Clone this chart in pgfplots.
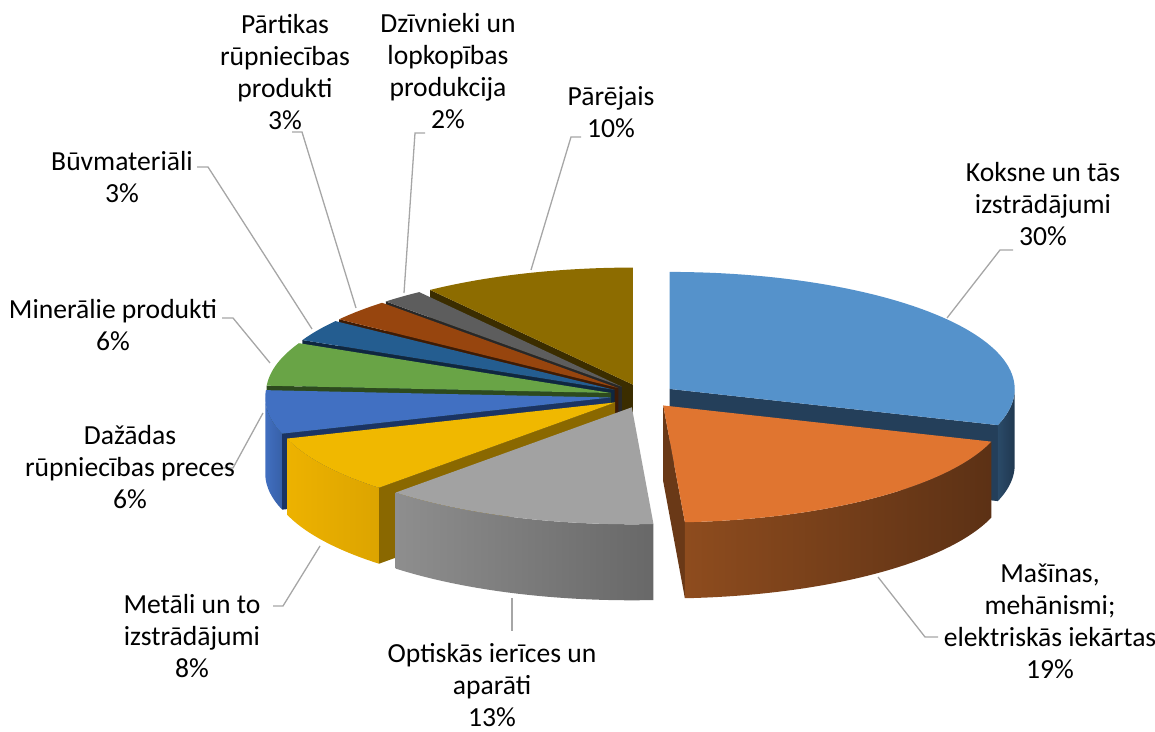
\documentclass[border=0pt]{standalone}
\usepackage{pgfplots}
\pgfplotsset{compat=1.18}
\usepackage{fontspec}
\setmainfont{Carlito}

\definecolor{kTop}{HTML}{5592CB}\definecolor{kCut}{HTML}{243F5A}\definecolor{kS1}{HTML}{2A4A68}\definecolor{kS2}{HTML}{203850}
\definecolor{mTop}{HTML}{E07530}\definecolor{mCut}{HTML}{6A3917}\definecolor{mS1}{HTML}{8E4C1E}\definecolor{mS2}{HTML}{5C3115}
\definecolor{oTop}{HTML}{A2A2A2}\definecolor{oS1}{HTML}{8E8E8E}\definecolor{oS2}{HTML}{686868}
\definecolor{tTop}{HTML}{F0B800}\definecolor{tCut}{HTML}{8A6800}\definecolor{tS1}{HTML}{EDB200}\definecolor{tS2}{HTML}{DCA400}
\definecolor{dTop}{HTML}{4170C2}\definecolor{dCut}{HTML}{1B3463}\definecolor{dS1}{HTML}{416FC0}\definecolor{dS2}{HTML}{3760A8}
\definecolor{nTop}{HTML}{69A446}\definecolor{nCut}{HTML}{2D4A1E}
\definecolor{bTop}{HTML}{245D90}\definecolor{bCut}{HTML}{0F2740}
\definecolor{pTop}{HTML}{97450E}\definecolor{pCut}{HTML}{3E1B04}
\definecolor{zTop}{HTML}{5D5D5D}\definecolor{zCut}{HTML}{282828}
\definecolor{rTop}{HTML}{8D6C00}\definecolor{rCut}{HTML}{3B2D00}
\definecolor{lead}{HTML}{A6A6A6}

% geometry in pixel units
\def\CX{643}\def\CY{336}\def\RA{345}\def\RB{117}\def\DD{76}\def\EX{33}\def\EY{12}

\newcommand{\cutface}[2]{%
  \addplot[fill=#2, draw=none, domain=0:3, samples=4, variable=\t]
   ({\Px+and(\t>0.5,\t<2.5)*\RA*cos(#1)},{\Py+and(\t>0.5,\t<2.5)*\RB*sin(#1)-(\t>1.5)*\DD});
}
\newcommand{\rim}[4]{%
  \addplot[left color=#3, right color=#4, draw=none, domain=0:81, samples=82, variable=\t]
   ({\Px+\RA*cos(#1+(#2-#1)*((\t<40.5)?\t:(81-\t))/40)},
    {\Py+\RB*sin(#1+(#2-#1)*((\t<40.5)?\t:(81-\t))/40)-(\t>40.5)*\DD});
}
% #1 start angle, #2 end angle, #3 top colour, #4/#5 rim colours, #6 cut colour at start, #7 cut colour at end
\newcommand{\slice}[7]{%
  \pgfmathsetmacro\md{(#1+#2)/2}%
  \pgfmathsetmacro\Px{\CX+\EX*cos(\md)}%
  \pgfmathsetmacro\Py{\CY+\EY*sin(\md)}%
  \pgfmathtruncatemacro\visA{cos(#1)<-0.001}%
  \pgfmathtruncatemacro\visB{cos(#2)>0.001}%
  \ifnum\visA=1 \cutface{#1}{#6}\fi
  \ifnum\visB=1 \cutface{#2}{#7}\fi
  \pgfmathsetmacro\pa{min(#1,0)}%
  \pgfmathsetmacro\pb{max(#2,-180)}%
  \pgfmathtruncatemacro\visR{\pa>\pb}%
  \ifnum\visR=1 \rim{\pa}{\pb}{#4}{#5}\fi
  \addplot[fill=#3, draw=none, domain=0:61, samples=62, variable=\t]
   ({\Px+(\t<60.5)*\RA*cos(#1+(#2-#1)*\t/60)},{\Py+(\t<60.5)*\RB*sin(#1+(#2-#1)*\t/60)});
}

\begin{document}
\begin{tikzpicture}[lbl/.style={font=\fontsize{13.8}{16}\selectfont, align=center, inner sep=0pt}]
\begin{axis}[x=0.5pt, y=0.5pt, xmin=0, xmax=1155, ymin=0, ymax=732,
  hide axis, clip=false, no markers]
% shares (percent): Koksne 30, Masinas 19, Optiskas 13, Metali 8, Dazadas 6,
% Mineralie 6, Buvmateriali 3, Partikas 3, Dzivnieki 2, Parejais 10
% cumulative angles clockwise from 90 deg
\slice{-234}{-270}{rTop}{rTop}{rTop}{rCut}{rCut}        % Parejais 10
\slice{-226.8}{-234}{zTop}{zTop}{zTop}{zCut}{zCut}      % Dzivnieki 2
\slice{-216}{-226.8}{pTop}{pTop}{pTop}{pCut}{pCut}      % Partikas 3
\slice{90}{-18}{kTop}{kS1}{kS2}{kCut}{kCut}             % Koksne 30
\slice{-205.2}{-216}{bTop}{bTop}{bTop}{bCut}{bCut}      % Buvmateriali 3
\slice{-183.6}{-205.2}{nTop}{nTop}{nTop}{nCut}{nCut}    % Mineralie 6
\slice{-162}{-183.6}{dTop}{dS1}{dS2}{dCut}{dCut}        % Dazadas 6
\slice{-133.2}{-162}{tTop}{tS1}{tS2}{tCut}{tCut}        % Metali 8
\slice{-18}{-86.4}{mTop}{mS1}{mS2}{mCut}{mCut}          % Masinas 19
\slice{-86.4}{-133.2}{oTop}{oS1}{oS2}{oS1}{oS1}         % Optiskas 13

% leader lines
\addplot[lead, line width=0.65pt] coordinates {(947,414) (1000,482) (1013,482)};
\addplot[lead, line width=0.65pt] coordinates {(878,155) (925,95) (938,95)};
\addplot[lead, line width=0.65pt] coordinates {(512,134) (512,101)};
\addplot[lead, line width=0.65pt] coordinates {(320,186) (283,126) (273,126)};
\addplot[lead, line width=0.65pt] coordinates {(263,319) (233,264) (222,264)};
\addplot[lead, line width=0.65pt] coordinates {(270,369) (233,414) (222,414)};
\addplot[lead, line width=0.65pt] coordinates {(312,403) (208,565) (197,565)};
\addplot[lead, line width=0.65pt] coordinates {(356,424) (302,600) (292,600)};
\addplot[lead, line width=0.65pt] coordinates {(404,439) (415,599) (425,599)};
\addplot[lead, line width=0.65pt] coordinates {(531,462) (571,595) (581,595)};

% labels
\node[lbl] at (axis cs:1043,528) {Koksne un tās\\izstrādājumi\\30\%};
\node[lbl] at (axis cs:1050,111) {Mašīnas,\\mehānismi;\\elektriskās iekārtas\\19\%};
\node[lbl] at (axis cs:492,47) {Optiskās ierīces un\\aparāti\\13\%};
\node[lbl] at (axis cs:192,96) {Metāli un to\\izstrādājumi\\8\%};
\node[lbl] at (axis cs:130,265) {Dažādas\\rūpniecības preces\\6\%};
\node[lbl] at (axis cs:113,407) {Minerālie produkti\\6\%};
\node[lbl] at (axis cs:122,555) {Būvmateriāli\\3\%};
\node[lbl] at (axis cs:285,659.5) {Pārtikas\\rūpniecības\\produkti\\3\%};
\node[lbl] at (axis cs:448,660.5) {Dzīvnieki un\\lopkopības\\produkcija\\2\%};
\node[lbl] at (axis cs:611,620) {Pārējais\\10\%};
\end{axis}
\pgfresetboundingbox
\path (0,0) rectangle (577.5pt,366pt);
\end{tikzpicture}
\end{document}
